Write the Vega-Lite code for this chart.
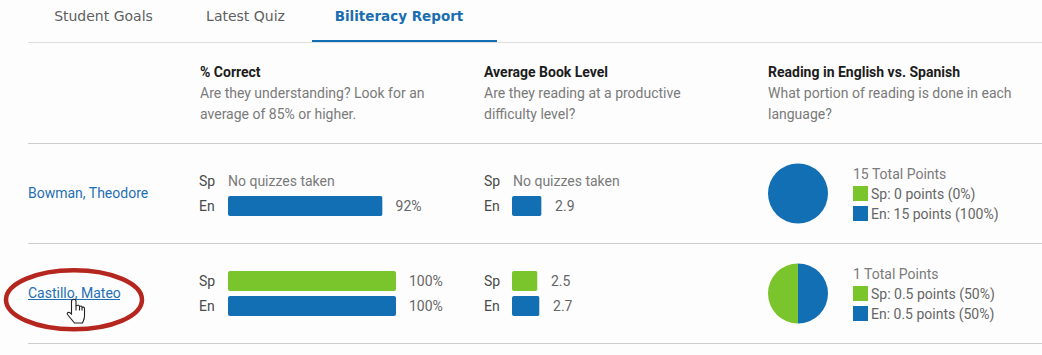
{
"$schema":"https://vega.github.io/schema/vega-lite/v6.json",
"width":1042,"height":355,"padding":0,
"autosize":{"type":"none"},
"background":"#fdfdfd",
"config":{"view":{"stroke":null},"font":"Roboto","axis":{"disable":true},"legend":{"disable":true}},
"datasets":{
"tabs":[{"tab":"Student Goals","active":false},{"tab":"Latest Quiz","active":false},{"tab":"Biliteracy Report","active":true}],
"headers":[
{"column":"% Correct","line":"title","text":"% Correct"},
{"column":"% Correct","line":"first","text":"Are they understanding? Look for an"},
{"column":"% Correct","line":"second","text":"average of 85% or higher."},
{"column":"Average Book Level","line":"title","text":"Average Book Level"},
{"column":"Average Book Level","line":"first","text":"Are they reading at a productive"},
{"column":"Average Book Level","line":"second","text":"difficulty level?"},
{"column":"Reading in English vs. Spanish","line":"title","text":"Reading in English vs. Spanish"},
{"column":"Reading in English vs. Spanish","line":"first","text":"What portion of reading is done in each"},
{"column":"Reading in English vs. Spanish","line":"second","text":"language?"}],
"rules":[{"section":"Header"},{"section":"Bowman, Theodore"},{"section":"Castillo, Mateo"}],
"bars":[
{"student":"Bowman, Theodore","language":"Sp","metric":"% Correct","value":null,"label":"No quizzes taken"},
{"student":"Bowman, Theodore","language":"En","metric":"% Correct","value":92,"label":"92%"},
{"student":"Castillo, Mateo","language":"Sp","metric":"% Correct","value":100,"label":"100%"},
{"student":"Castillo, Mateo","language":"En","metric":"% Correct","value":100,"label":"100%"},
{"student":"Bowman, Theodore","language":"Sp","metric":"Average Book Level","value":null,"label":"No quizzes taken"},
{"student":"Bowman, Theodore","language":"En","metric":"Average Book Level","value":2.9,"label":"2.9"},
{"student":"Castillo, Mateo","language":"Sp","metric":"Average Book Level","value":2.5,"label":"2.5"},
{"student":"Castillo, Mateo","language":"En","metric":"Average Book Level","value":2.7,"label":"2.7"}],
"reading":[
{"student":"Bowman, Theodore","language":"Sp","points":0,"text":"Sp: 0 points (0%)"},
{"student":"Bowman, Theodore","language":"En","points":15,"text":"En: 15 points (100%)"},
{"student":"Castillo, Mateo","language":"Sp","points":0.5,"text":"Sp: 0.5 points (50%)"},
{"student":"Castillo, Mateo","language":"En","points":0.5,"text":"En: 0.5 points (50%)"}],
"totals":[
{"student":"Bowman, Theodore","language":"Total","text":"15 Total Points"},
{"student":"Castillo, Mateo","language":"Total","text":"1 Total Points"}],
"students":[{"student":"Bowman, Theodore"},{"student":"Castillo, Mateo"}]
},
"resolve":{"scale":{"x":"independent","y":"independent","yOffset":"independent","theta":"independent"}},
"layer":[
{"data":{"name":"tabs"},"transform":[{"filter":"!datum.active"}],"mark":{"type":"text","font":"DejaVu Sans","fontSize":14,"fontWeight":"normal","align":"center","baseline":"middle","color":"#5f5f5f"},
 "encoding":{"x":{"field":"tab","type":"nominal","sort":null,"scale":{"type":"point","padding":0,"domain":["Student Goals","Latest Quiz"],"range":[103.5,245.5]},"axis":null},
 "y":{"datum":"tabs","type":"nominal","scale":{"type":"point","domain":["tabs"],"range":[17,17]},"axis":null},
 "text":{"field":"tab"}}},
{"data":{"name":"tabs"},"transform":[{"filter":"datum.active"}],"mark":{"type":"text","font":"DejaVu Sans","fontSize":13.5,"fontWeight":"bold","align":"center","baseline":"middle","color":"#1a6db0"},
 "encoding":{"x":{"field":"tab","type":"nominal","scale":{"type":"point","domain":["Biliteracy Report"],"range":[399,399]},"axis":null},
 "y":{"datum":"tabs","type":"nominal","scale":{"type":"point","domain":["tabs"],"range":[17,17]},"axis":null},
 "text":{"field":"tab"}}},
{"data":{"name":"tabs"},"mark":{"type":"rule","stroke":"#dddddd","strokeWidth":1},
 "encoding":{"x":{"datum":0,"type":"quantitative","scale":{"domain":[0,1],"range":[28,1042]},"axis":null},"x2":{"datum":1},
 "y":{"datum":"tabs","type":"nominal","scale":{"type":"point","domain":["tabs"],"range":[42.5,42.5]},"axis":null}}},
{"data":{"name":"tabs"},"transform":[{"filter":"datum.active"}],"mark":{"type":"rule","stroke":"#136fb4","strokeWidth":2},
 "encoding":{"x":{"datum":0,"type":"quantitative","scale":{"domain":[0,1],"range":[312,497]},"axis":null},"x2":{"datum":1},
 "y":{"datum":"tabs","type":"nominal","scale":{"type":"point","domain":["tabs"],"range":[41,41]},"axis":null}}},
{"data":{"name":"rules"},"mark":{"type":"rule","stroke":"#cccccc","strokeWidth":1},
 "encoding":{"x":{"datum":0,"type":"quantitative","scale":{"domain":[0,1],"range":[28,1042]},"axis":null},"x2":{"datum":1},
 "y":{"field":"section","type":"nominal","sort":null,"scale":{"type":"point","padding":0,"domain":["Header","Bowman, Theodore","Castillo, Mateo"],"range":[143.5,343.5]},"axis":null}}},
{"data":{"name":"headers"},"transform":[{"filter":"datum.line==='title'"}],"mark":{"type":"text","fontSize":14,"fontWeight":"bold","align":"left","baseline":"middle","color":"#1c1c1c","dy":1},
 "encoding":{"x":{"field":"column","type":"nominal","sort":null,"scale":{"type":"point","padding":0,"domain":["% Correct","Average Book Level","Reading in English vs. Spanish"],"range":[200,768]},"axis":null},
 "y":{"field":"line","type":"nominal","scale":{"type":"point","padding":0,"domain":["title","first","second"],"range":[72,114]},"axis":null},"text":{"field":"text"}}},
{"data":{"name":"headers"},"transform":[{"filter":"datum.line!=='title'"}],"mark":{"type":"text","fontSize":14,"align":"left","baseline":"middle","color":"#7a7a7a","dy":1},
 "encoding":{"x":{"field":"column","type":"nominal","sort":null,"scale":{"type":"point","padding":0,"domain":["% Correct","Average Book Level","Reading in English vs. Spanish"],"range":[200,768]},"axis":null},
 "y":{"field":"line","type":"nominal","scale":{"type":"point","padding":0,"domain":["title","first","second"],"range":[72,114]},"axis":null},"text":{"field":"text"}}},
{"data":{"name":"students"},"mark":{"type":"text","fontSize":14,"align":"left","baseline":"middle","color":"#1f6fb4","dy":1},
 "encoding":{"x":{"field":"student","type":"nominal","scale":{"type":"point","padding":0,"domain":["Bowman, Theodore","Castillo, Mateo"],"range":[28,28]},"axis":null},
 "y":{"field":"student","type":"nominal","sort":null,"scale":{"type":"point","padding":0,"domain":["Bowman, Theodore","Castillo, Mateo"],"range":[193,293]},"axis":null},"text":{"field":"student"}}},
{"data":{"name":"students"},"transform":[{"filter":"datum.student==='Castillo, Mateo'"}],"mark":{"type":"rule","stroke":"#1f6fb4","strokeWidth":1},
 "encoding":{"x":{"datum":0,"type":"quantitative","scale":{"domain":[0,1],"range":[28,120]},"axis":null},"x2":{"datum":1},
 "y":{"field":"student","type":"nominal","scale":{"type":"point","domain":["Castillo, Mateo"],"range":[299.5,299.5]},"axis":null}}},
{"data":{"name":"bars"},"mark":{"type":"text","fontSize":14,"align":"left","baseline":"middle","color":"#4a4a4a","dy":1},
 "encoding":{"x":{"field":"metric","type":"nominal","sort":null,"scale":{"type":"point","padding":0,"domain":["% Correct","Average Book Level"],"range":[199,484]},"axis":null},
 "y":{"field":"student","type":"nominal","sort":null,"scale":{"type":"point","padding":0,"domain":["Bowman, Theodore","Castillo, Mateo"],"range":[193,293]},"axis":null},
 "yOffset":{"field":"language","type":"nominal","sort":null,"scale":{"type":"point","padding":0,"domain":["Sp","En"],"range":[-12,13]}},"text":{"field":"language"}}},
{"data":{"name":"bars"},"transform":[{"filter":"datum.value===null"}],"mark":{"type":"text","fontSize":14,"align":"left","baseline":"middle","color":"#7a7a7a","dy":1},
 "encoding":{"x":{"field":"metric","type":"nominal","sort":null,"scale":{"type":"point","padding":0,"domain":["% Correct","Average Book Level"],"range":[228,513]},"axis":null},
 "y":{"field":"student","type":"nominal","sort":null,"scale":{"type":"point","padding":0,"domain":["Bowman, Theodore","Castillo, Mateo"],"range":[193,293]},"axis":null},
 "yOffset":{"field":"language","type":"nominal","sort":null,"scale":{"type":"point","padding":0,"domain":["Sp","En"],"range":[-12,13]}},"text":{"field":"label"}}},
{"data":{"name":"bars"},"transform":[{"filter":"datum.metric==='% Correct' && datum.value!==null"}],"mark":{"type":"bar","cornerRadius":2},
 "encoding":{"x":{"field":"value","type":"quantitative","scale":{"domain":[0,100],"range":[228,396],"nice":false},"axis":null},
 "y":{"field":"student","type":"nominal","sort":null,"scale":{"type":"point","padding":0,"domain":["Bowman, Theodore","Castillo, Mateo"],"range":[193,293]},"axis":null},
 "yOffset":{"field":"language","type":"nominal","sort":null,"scale":{"type":"band","paddingInner":0.2,"paddingOuter":0,"domain":["Sp","En"],"range":[-22,23]}},
 "color":{"field":"language","type":"nominal","scale":{"domain":["Sp","En"],"range":["#7ac52b","#136fb4"]},"legend":null}}},
{"data":{"name":"bars"},"transform":[{"filter":"datum.metric==='Average Book Level' && datum.value!==null"}],"mark":{"type":"bar","cornerRadius":2},
 "encoding":{"x":{"field":"value","type":"quantitative","scale":{"domain":[0,10],"range":[512,614],"nice":false},"axis":null},
 "y":{"field":"student","type":"nominal","sort":null,"scale":{"type":"point","padding":0,"domain":["Bowman, Theodore","Castillo, Mateo"],"range":[193,293]},"axis":null},
 "yOffset":{"field":"language","type":"nominal","sort":null,"scale":{"type":"band","paddingInner":0.2,"paddingOuter":0,"domain":["Sp","En"],"range":[-22,23]}},
 "color":{"field":"language","type":"nominal","scale":{"domain":["Sp","En"],"range":["#7ac52b","#136fb4"]},"legend":null}}},
{"data":{"name":"bars"},"transform":[{"filter":"datum.metric==='% Correct' && datum.value!==null"}],"mark":{"type":"text","fontSize":14,"align":"left","baseline":"middle","dx":13,"dy":1,"color":"#666666"},
 "encoding":{"x":{"field":"value","type":"quantitative","scale":{"domain":[0,100],"range":[228,396],"nice":false},"axis":null},
 "y":{"field":"student","type":"nominal","sort":null,"scale":{"type":"point","padding":0,"domain":["Bowman, Theodore","Castillo, Mateo"],"range":[193,293]},"axis":null},
 "yOffset":{"field":"language","type":"nominal","sort":null,"scale":{"type":"point","padding":0,"domain":["Sp","En"],"range":[-12,13]}},"text":{"field":"label"}}},
{"data":{"name":"bars"},"transform":[{"filter":"datum.metric==='Average Book Level' && datum.value!==null"}],"mark":{"type":"text","fontSize":14,"align":"left","baseline":"middle","dx":13.5,"dy":1,"color":"#666666"},
 "encoding":{"x":{"field":"value","type":"quantitative","scale":{"domain":[0,10],"range":[512,614],"nice":false},"axis":null},
 "y":{"field":"student","type":"nominal","sort":null,"scale":{"type":"point","padding":0,"domain":["Bowman, Theodore","Castillo, Mateo"],"range":[193,293]},"axis":null},
 "yOffset":{"field":"language","type":"nominal","sort":null,"scale":{"type":"point","padding":0,"domain":["Sp","En"],"range":[-12,13]}},"text":{"field":"label"}}},
{"data":{"name":"reading"},"transform":[{"filter":"datum.student==='Bowman, Theodore'"}],"mark":{"type":"arc","outerRadius":30},
 "encoding":{"x":{"field":"student","type":"nominal","scale":{"type":"point","domain":["Bowman, Theodore"],"range":[798,798]},"axis":null},
 "y":{"field":"student","type":"nominal","scale":{"type":"point","domain":["Bowman, Theodore"],"range":[193.5,193.5]},"axis":null},
 "theta":{"field":"points","type":"quantitative","stack":true},"order":{"field":"language"},
 "color":{"field":"language","type":"nominal","scale":{"domain":["Sp","En"],"range":["#7ac52b","#136fb4"]},"legend":null}}},
{"data":{"name":"reading"},"transform":[{"filter":"datum.student==='Castillo, Mateo'"}],"mark":{"type":"arc","outerRadius":30},
 "encoding":{"x":{"field":"student","type":"nominal","scale":{"type":"point","domain":["Castillo, Mateo"],"range":[798,798]},"axis":null},
 "y":{"field":"student","type":"nominal","scale":{"type":"point","domain":["Castillo, Mateo"],"range":[293.5,293.5]},"axis":null},
 "theta":{"field":"points","type":"quantitative","stack":true},"order":{"field":"language"},
 "color":{"field":"language","type":"nominal","scale":{"domain":["Sp","En"],"range":["#7ac52b","#136fb4"]},"legend":null}}},
{"data":{"name":"totals"},"mark":{"type":"text","fontSize":14,"align":"left","baseline":"middle","color":"#7a7a7a","dy":1},
 "encoding":{"x":{"field":"language","type":"nominal","scale":{"type":"point","domain":["Total"],"range":[853,853]},"axis":null},
 "y":{"field":"student","type":"nominal","sort":null,"scale":{"type":"point","padding":0,"domain":["Bowman, Theodore","Castillo, Mateo"],"range":[174,274]},"axis":null},"text":{"field":"text"}}},
{"data":{"name":"reading"},"mark":{"type":"square","size":225,"opacity":1},
 "encoding":{"x":{"field":"language","type":"nominal","scale":{"type":"point","domain":["Sp","En"],"range":[860.5,860.5]},"axis":null},
 "y":{"field":"student","type":"nominal","sort":null,"scale":{"type":"point","padding":0,"domain":["Bowman, Theodore","Castillo, Mateo"],"range":[193.5,293.5]},"axis":null},
 "yOffset":{"field":"language","type":"nominal","sort":null,"scale":{"type":"point","padding":0,"domain":["Sp","En"],"range":[0,20]}},
 "color":{"field":"language","type":"nominal","scale":{"domain":["Sp","En"],"range":["#7ac52b","#136fb4"]},"legend":null}}},
{"data":{"name":"reading"},"mark":{"type":"text","fontSize":14,"align":"left","baseline":"middle","color":"#666666","dy":1},
 "encoding":{"x":{"field":"language","type":"nominal","scale":{"type":"point","domain":["Sp","En"],"range":[871,871]},"axis":null},
 "y":{"field":"student","type":"nominal","sort":null,"scale":{"type":"point","padding":0,"domain":["Bowman, Theodore","Castillo, Mateo"],"range":[194,294]},"axis":null},
 "yOffset":{"field":"language","type":"nominal","sort":null,"scale":{"type":"point","padding":0,"domain":["Sp","En"],"range":[0,20]}},"text":{"field":"text"}}},
{"data":{"name":"students"},"transform":[{"filter":"datum.student==='Castillo, Mateo'"}],"mark":{"type":"point","shape":"M -1 0 C -1 -0.24 -0.552 -0.434 0 -0.434 C 0.552 -0.434 1 -0.24 1 0 C 1 0.24 0.552 0.434 0 0.434 C -0.552 0.434 -1 0.24 -1 0 Z","size":18496,"filled":false,"opacity":1,"stroke":"#b5261f","strokeWidth":4.5},
 "encoding":{"x":{"field":"student","type":"nominal","scale":{"type":"point","domain":["Castillo, Mateo"],"range":[74,74]},"axis":null},
 "y":{"field":"student","type":"nominal","scale":{"type":"point","domain":["Castillo, Mateo"],"range":[299.7,299.7]},"axis":null}}},
{"data":{"name":"students"},"transform":[{"filter":"datum.student==='Castillo, Mateo'"}],"mark":{"type":"point","shape":"M -3.5 -9.5 C -3.5 -12.5 1 -12.5 1 -9.5 L 1 -5 C 3 -6.5 4.5 -5.5 4.5 -4.5 C 6 -5.5 7 -5 7 -3.5 C 8.5 -4.5 9.5 -3.5 9.5 -2 L 9.5 5 C 9.5 8 8.5 9.5 7.5 12 L -0.5 12 L -7.5 3.5 C -8.5 2 -6.5 0 -3.5 3 Z M 1 -5 L 1 -0.5 M 4.5 -4.5 L 4.5 -0.5 M 7 -3.5 L 7 -0.5","size":4,"filled":true,"opacity":1,"fill":"#ffffff","stroke":"#222222","strokeWidth":1.1},
 "encoding":{"x":{"field":"student","type":"nominal","scale":{"type":"point","domain":["Castillo, Mateo"],"range":[75,75]},"axis":null},
 "y":{"field":"student","type":"nominal","scale":{"type":"point","domain":["Castillo, Mateo"],"range":[311,311]},"axis":null}}}
]
}
